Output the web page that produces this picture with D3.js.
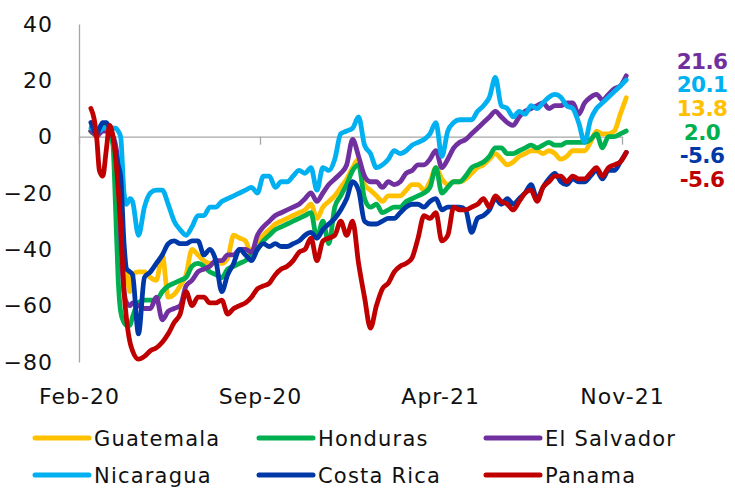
<!DOCTYPE html>
<html>
<head>
<meta charset="utf-8">
<script src="https://cdn.jsdelivr.net/npm/d3@7"></script>
<style>
  html, body { margin: 0; padding: 0; background: #fff; }
  svg { display: block; font-family: "DejaVu Sans", sans-serif; }
</style>
</head>
<body>
<svg id="chart" width="735" height="488"></svg>
<script>
// ---------- DATA ----------
const earlyDates = ["2020-02-15","2020-02-19","2020-02-22","2020-02-25","2020-02-29","2020-03-04","2020-03-08",
  "2020-03-12","2020-03-15","2020-03-18","2020-03-21","2020-03-25","2020-03-28","2020-04-01","2020-04-04"];
const weeklyStart = "2020-04-11";
const weeklyEnd = "2021-11-06";

const seriesNames = ["Guatemala","Honduras","El Salvador","Nicaragua","Costa Rica","Panama"];
const seriesColors = ["#FFC000","#00B050","#7030A0","#00B0F0","#0038A8","#C00000"];

const guatemala = [2,1,1,2,3,3,2,0,-5,-15,-35,-46,-48,-55,-49,
  -48,-48,-50,-51,-42,-57,-56,-53,-49,-40,
  -42,-44,-45,-45,-45,-43,-35,-36,-37,-42,
  -38,-35,-33,-31,-30,-29,-28,-27,-26,-24,
  -29,-25,-23,-21,-18,-15,-11,-8,-17,-19,
  -21,-23,-21,-21,-21,-19,-17,-17,-19,-16,
  -11,-15,-17,-16,-16,-15,-13,-11,-10,-8,
  -6,-8,-10,-9,-7,-6,-5,-5,-6,-5,
  -6,-8,-7,-5,-5,-5,-2,2,1,1,
  2,8,13.8];
const honduras = [2,1,1,2,3,4,2,-3,-25,-50,-62,-66,-67,-67,-64,
  -59,-58,-58,-58,-55,-53,-52,-51,-50,-46,
  -45,-46,-48,-49,-50,-47,-46,-45,-44,-42,
  -40,-37,-35,-33,-32,-31,-30,-29,-28,-27,
  -36,-30,-38,-25,-21,-17,-12,-10,-22,-25,
  -24,-27,-26,-25,-25,-23,-22,-21,-20,-18,
  -11,-20,-18,-16,-16,-14,-11,-10,-9,-7,
  -4,-4,-6,-6,-5,-4,-3,-4,-3,-2,
  -3,-3,-2,-2,-2,-2,-1,1,-4,0,
  0,1,2.0];
const elSalvador = [2,1,0,1,2,2,1,0,-3,-10,-35,-55,-59,-60,-59,
  -60,-61,-61,-57,-65,-62,-61,-60,-53,-51,
  -48,-47,-46,-44,-44,-42,-42,-40,-40,-41,
  -35,-32,-30,-28,-27,-26,-25,-24,-22,-20,
  -23,-20,-17,-15,-13,-10,-1,-7,-14,-16,
  -16,-18,-16,-17,-16,-13,-12,-10,-10,-8,
  -5,-11,-8,-4,-2,-1,1,3,5,7,
  9,7,5,4,7,9,10,11,12,10,
  11,11,12,12,8,12,14,15,13,15,
  17,18,21.6];
const nicaragua = [3,3,2,2,3,3,3,3,3,2,0,-20,-24,-22,-23,
  -35,-25,-20,-19,-19,-24,-30,-33,-35,-32,
  -28,-28,-25,-25,-23,-22,-21,-20,-19,-18,
  -20,-14,-14,-18,-16,-16,-14,-12,-13,-11,
  -19,-11,-12,-8,1,2,3,7,-3,-6,
  -11,-10,-8,-5,-6,-5,-3,-2,-1,1,
  5,-7,2,5,6,6,6,9,11,14,
  21,11,10,7,9,8,11,10,12,14,
  15,14,11,10,5,-2,6,10,12,14,
  16,18,20.1];
const costaRica = [5,2,1,3,5,5,3,0,-5,-10,-14,-38,-47,-48,-49,
  -70,-50,-48,-45,-42,-38,-37,-38,-38,-37,
  -37,-42,-40,-44,-55,-49,-45,-40,-42,-44,
  -40,-38,-39,-38,-39,-39,-38,-37,-35,-34,
  -36,-33,-31,-29,-26,-22,-16,-19,-30,-31,
  -31,-30,-29,-29,-27,-25,-24,-24,-25,-23,
  -22,-26,-25,-25,-25,-26,-34,-29,-28,-26,
  -22,-24,-22,-24,-22,-20,-17,-22,-18,-15,
  -13,-16,-17,-15,-16,-16,-14,-12,-15,-12,
  -12,-9,-5.6];
const panama = [10,6,-1,-12,-14,-5,4,0,-7,-18,-31,-55,-65,-73,-76,
  -79,-78,-76,-75,-73,-70,-66,-63,-55,-60,
  -57,-57,-59,-59,-58,-63,-61,-60,-59,-57,
  -54,-53,-52,-49,-47,-46,-44,-41,-40,-36,
  -44,-37,-36,-35,-30,-35,-30,-45,-57,-68,
  -60,-54,-52,-48,-46,-45,-43,-36,-28,-29,
  -27,-37,-35,-25,-26,-26,-25,-24,-22,-25,
  -21,-23,-24,-26,-23,-20,-19,-23,-18,-16,
  -14,-14,-16,-14,-15,-15,-13,-11,-14,-11,
  -10,-9,-5.6];

const yTicks = [40,20,0,-20,-40,-60,-80];
const xTickDates = ["2020-02-01","2020-09-01","2021-04-01","2021-11-01"];

// ---------- BUILD ----------
const parse = d3.utcParse("%Y-%m-%d");
const dates = earlyDates.map(parse).concat(
  d3.utcDay.range(parse(weeklyStart), d3.utcDay.offset(parse(weeklyEnd), 1), 7)
);
const allValues = [guatemala, honduras, elSalvador, nicaragua, costaRica, panama];
const series = seriesNames.map((name, i) => ({
  name, color: seriesColors[i],
  points: allValues[i].map((v, j) => ({ date: dates[j], value: v }))
}));

const svg = d3.select("#chart");
const x = d3.scaleUtc().domain([parse(xTickDates[0]), parse(xTickDates[3])]).range([79, 622]);
const y = d3.scaleLinear().domain([-80, 40]).range([362, 24]);
const axisColor = "#a6a6a6";

// y axis
const yAxis = svg.append("g").attr("transform", "translate(79,0)")
  .call(d3.axisLeft(y).tickValues(yTicks).tickSize(0).tickPadding(26).tickFormat(d3.format("d")));
yAxis.select(".domain").attr("stroke", axisColor).attr("stroke-width", 1.3);
yAxis.selectAll("text").attr("font-size", 22).attr("fill", "#111").attr("font-family", "DejaVu Sans")
  .attr("letter-spacing", 1);

// zero-line axis with ticks
const xAxis = svg.append("g").attr("transform", `translate(0,${y(0)})`)
  .call(d3.axisBottom(x).tickValues(xTickDates.map(parse)).tickSize(8).tickSizeOuter(0).tickFormat(""));
xAxis.select(".domain").attr("stroke", axisColor).attr("stroke-width", 1.3);
xAxis.selectAll(".tick line").attr("stroke", axisColor).attr("stroke-width", 1.3);

// bottom tick labels
const fmt = d3.utcFormat("%b-%y");
const xLab = svg.append("g").attr("transform", "translate(0,380)")
  .call(d3.axisBottom(x).tickValues(xTickDates.map(parse)).tickSize(0).tickPadding(8).tickFormat(fmt));
xLab.select(".domain").remove();
xLab.selectAll("text").attr("font-size", 22).attr("fill", "#111").attr("font-family", "DejaVu Sans")
  .attr("letter-spacing", 1);

// lines
const line = d3.line().x(d => x(d.date)).y(d => y(d.value)).curve(d3.curveMonotoneX);
svg.append("g").selectAll("path").data(series).join("path")
  .attr("d", d => line(d.points))
  .attr("fill", "none")
  .attr("stroke", d => d.color)
  .attr("stroke-width", 4.8)
  .attr("stroke-linejoin", "round")
  .attr("stroke-linecap", "round");

// end labels (sorted by last value, stacked in a column)
const ends = series.map(s => ({ color: s.color, v: s.points[s.points.length - 1].value, order: seriesNames.indexOf(s.name) }))
  .sort((a, b) => b.v - a.v || a.order - b.order);
svg.append("g").selectAll("text").data(ends).join("text")
  .attr("x", 702)
  .attr("y", (d, i) => 61 + i * 23.6)
  .attr("dy", "0.36em")
  .attr("text-anchor", "middle")
  .attr("font-size", 21.5)
  .attr("font-weight", "bold")
  .attr("letter-spacing", -0.6)
  .attr("fill", d => d.color)
  .text(d => d.v.toFixed(1));

// legend
const legX = [35, 259, 486];
const legY = [438, 475];
const leg = svg.append("g").selectAll("g").data(series).join("g")
  .attr("transform", (d, i) => `translate(${legX[i % 3]},${legY[Math.floor(i / 3)]})`);
leg.append("line").attr("x1", 0).attr("x2", 54).attr("y1", 0).attr("y2", 0)
  .attr("stroke", d => d.color).attr("stroke-width", 5).attr("stroke-linecap", "round");
leg.append("text").attr("x", 59).attr("dy", "0.36em")
  .attr("font-size", 21).attr("fill", "#111").attr("letter-spacing", 1.2)
  .text(d => d.name);
</script>
</body>
</html>
